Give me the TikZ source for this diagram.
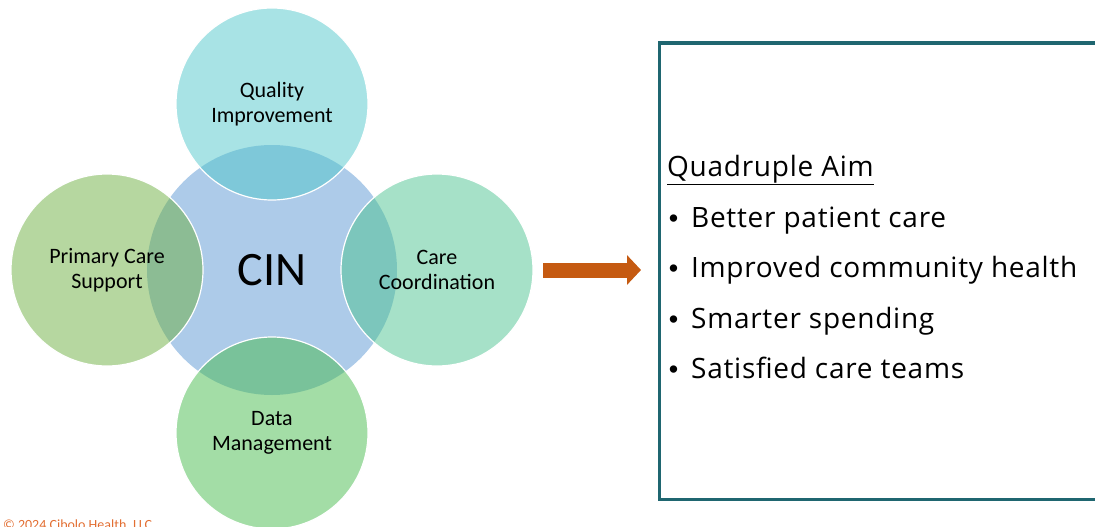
\documentclass[tikz,border=0pt]{standalone}
\usepackage{fontspec}
\setmainfont{Open Sans}[LetterSpace=2.6]
\newfontfamily\calibri{Carlito}
\newfontfamily\arial{Liberation Sans}
\usetikzlibrary{arrows.meta}

\definecolor{cinblue}{RGB}{173,203,233}
\definecolor{qualcol}{RGB}{81,199,203}
\definecolor{primcol}{RGB}{109,175,65}
\definecolor{coordcol}{RGB}{77,195,145}
\definecolor{datacol}{RGB}{71,187,77}
\definecolor{arrowcol}{RGB}{197,90,17}
\definecolor{framecol}{RGB}{31,102,112}
\definecolor{copyorange}{RGB}{226,110,50}

\begin{document}
\begin{tikzpicture}[x=1pt, y=-1pt,
		hub/.style={circle, fill=cinblue, minimum size=250pt, inner sep=0pt, font=\calibri\fontsize{48}{56}\selectfont},
		petal/.style={circle, draw=white, line width=1.2pt, fill=#1, fill opacity=0.5, text opacity=1, minimum size=192pt, inner sep=0pt, align=center, font=\calibri\fontsize{22}{25}\selectfont},
		aim/.style={anchor=base west, inner sep=0pt, font=\fontsize{28}{30}\selectfont}]
		\useasboundingbox (0,0) rectangle (1095,527);
		% CIN and its four circles
		\node[hub] (cin) at (272,270) {CIN};
		\node[petal=qualcol] (quality) at (272,104) {Quality\\Improvement};
		\node[petal=primcol] (primary) at (107,270) {Primary Care\\Support};
		\node[petal=coordcol] (coordination) at (437,270) {Care\\Coordination};
		\node[petal=datacol] (data) at (272,433) {Data\\Management};
		% arrow to the aims
		\coordinate (arrowtail) at (543,270);
		\coordinate (arrowtip) at (641,270);
		\draw[arrowcol, line width=15pt, -{Triangle[length=14pt, width=29pt]}] (arrowtail) -- (arrowtip);
		\node[draw=framecol, line width=3.5pt, minimum width=470pt, minimum height=456pt, anchor=north west, inner sep=0pt] (aimbox) at (657.5,41.5) {};
		\node[aim] (aimtitle) at (667,176.5) {\underline{Quadruple Aim}};
		\foreach \txt [count=\i] in {Better patient care, Improved community health, Smarter spending, Satisfied care teams} {
			\node[aim] (aim\i) at (691, 176.5+50.5*\i) {\txt};
			\node[aim, anchor=base, font=\arial\fontsize{27}{30}\selectfont] (dot\i) at (673.5, 176.5+50.5*\i) {•};
		}
		\node[anchor=base west, inner sep=0pt, text=copyorange, font=\calibri\fontsize{14}{16}\selectfont] (copyright) at (3,529.5) {© 2024 Cibolo Health, LLC};
	\end{tikzpicture}
\end{document}
